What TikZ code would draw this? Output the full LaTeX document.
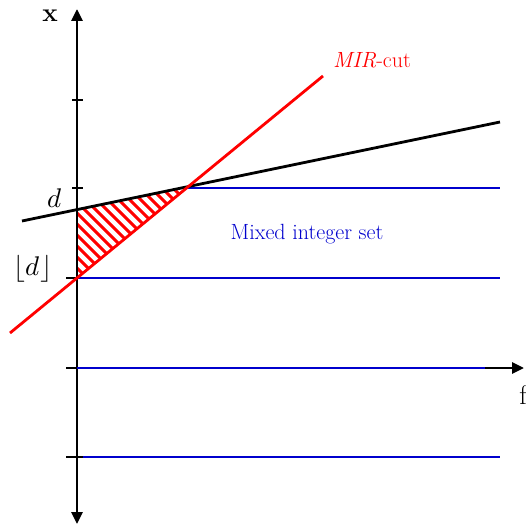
\documentclass[tikz,border=0pt]{standalone}
\usepackage{fontspec}
\usepackage{unicode-math}
\usetikzlibrary{arrows.meta}
\definecolor{setblue}{RGB}{0,0,205}
\begin{document}
\begin{tikzpicture}[x=1pt,y=-1pt,
  axis/.style={line width=2.8pt,-{Triangle[length=12pt,width=11pt]}},
  tickmark/.style={line width=2.6pt},
  bluel/.style={setblue,line width=2.8pt},
  blackl/.style={black,line width=2.8pt},
  redl/.style={red,line width=2.8pt},
  hatch/.style={red,line width=3pt},
  lbl/.style={font=\fontsize{22}{26}\selectfont},
  biglbl/.style={font=\fontsize{27}{30}\selectfont}]
\useasboundingbox (0,0) rectangle (526,527);
% coordinates
\coordinate (O) at (77,368);
\coordinate (yt) at (77,9);
\coordinate (xl) at (66,368);
\coordinate (xr) at (524,368);
\coordinate (P) at (188,188);
\coordinate (A) at (77,209.5);
\coordinate (B) at (77,278);
\coordinate (bl0) at (22,221);
\coordinate (bl1) at (500,122);
\coordinate (rl0) at (10,333);
\coordinate (rl1) at (323,76);
% hatch
\begin{scope}
\clip (A) -- (P) -- (B) -- cycle;
\foreach \c in {-400,-389,...,200}{
  \draw[hatch] (\c,0) -- (\c+500,500);
}
\end{scope}
% ticks
\foreach \yy in {100,188}{
  \draw[tickmark] (72,\yy) -- (83,\yy);
}
\foreach \yy in {278,457}{
  \draw[tickmark] (66,\yy) -- (83,\yy);
}
% axes
\draw[axis] (xl) -- (xr);
\draw[axis] (77,522) -- (yt);
\draw[axis] (77,380) -- (77,524);
% blue lines
\draw[bluel] (P) -- (500,188);
\draw[bluel] (B) -- (500,278);
\draw[bluel] (O) -- (485,368);
\draw[bluel] (83,457) -- (500,457);
% black and red lines
\draw[blackl] (bl0) -- (bl1);
\draw[redl] (rl0) -- (rl1);
% labels
\node[biglbl,font=\fontsize{26}{30}\selectfont\bfseries] (xlab) at (50,16) {x};
\node[biglbl] (flab) at (523,395) {f};
\node[biglbl] (dlab) at (55,198) {$d$};
\node[biglbl] (fdlab) at (33,269) {$\lfloor d\rfloor$};
\node[lbl,red] (mir) at (372,60) {\textit{MIR}-cut};
\node[lbl,setblue] (mis) at (307,234) {Mixed integer set};
\end{tikzpicture}
\end{document}
